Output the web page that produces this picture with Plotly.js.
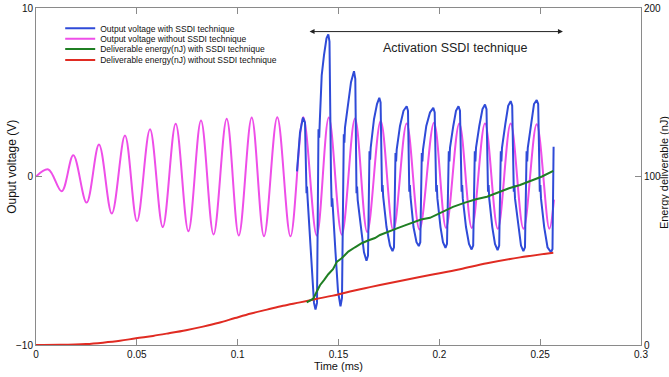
<!DOCTYPE html>
<html>
<head>
<meta charset="utf-8">
<script src="https://cdn.plot.ly/plotly-3.0.1.min.js"></script>
<style>html,body{margin:0;padding:0;background:#fff}#chart{width:669px;height:377px}</style>
</head>
<body>
<div id="chart"></div>
<script>
// ---- data (time in ms, voltage in V, energy in nJ) ----
const seriesNames = [
  "Output voltage with SSDI technique",
  "Output voltage without SSDI technique",
  "Deliverable energy(nJ) with SSDI technique",
  "Deliverable energy(nJ) without SSDI technique"
];

const vNoSsdiTime = [0,0.00610,0.01274,0.01850,0.02509,0.03124,0.03759,0.04413,0.05008,0.05653,0.06287,0.06927,0.07557,0.08182,0.08806,0.09456,0.10056,0.10696,0.11306,0.11965,0.12620,0.13254,0.13919,0.14519,0.15163,0.15818,0.16423,0.17092,0.17717,0.18381,0.19016,0.19735,0.20330,0.20990,0.21610,0.22264,0.22899,0.23538,0.24173,0.24828,0.25453,0.25686];
const vNoSsdi = [0,0.42,-0.87,1.26,-1.55,1.9,-2.2,2.43,-2.65,2.8,-3.0,3.13,-3.25,3.32,-3.44,3.42,-3.5,3.5,-3.55,3.52,-3.55,3.52,-3.5,3.5,-3.45,3.44,-3.3,3.3,-3.2,3.15,-3.15,3.19,-3.05,3.15,-3.05,3.15,-3.1,3.15,-3.1,3.1,-3.1,-1.37];

const vSsdiTime = [0.12942,0.13091,0.13240,0.13339,0.13413,0.13438,0.13468,0.13587,0.13686,0.13785,0.13859,0.13934,0.14008,0.14043,0.14073,0.14167,0.14281,0.14405,0.14494,0.14553,0.14628,0.14663,0.14692,0.14727,0.14851,0.14975,0.15099,0.15173,0.15263,0.15292,0.15322,0.15486,0.15620,0.15768,0.15833,0.15892,0.15922,0.15952,0.16115,0.16264,0.16388,0.16463,0.16537,0.16567,0.16596,0.16760,0.16909,0.17023,0.17087,0.17157,0.17187,0.17216,0.17380,0.17553,0.17678,0.17752,0.17826,0.17856,0.17886,0.18049,0.18223,0.18381,0.18446,0.18510,0.18540,0.18570,0.18719,0.18868,0.18982,0.19056,0.19130,0.19160,0.19190,0.19353,0.19537,0.19700,0.19770,0.19844,0.19874,0.19904,0.20058,0.20181,0.20305,0.20380,0.20469,0.20499,0.20529,0.20692,0.20826,0.20950,0.21024,0.21104,0.21134,0.21163,0.21322,0.21471,0.21600,0.21679,0.21758,0.21788,0.21818,0.21982,0.22140,0.22264,0.22339,0.22413,0.22443,0.22473,0.22626,0.22760,0.22889,0.22968,0.23048,0.23077,0.23107,0.23271,0.23414,0.23538,0.23613,0.23692,0.23722,0.23752,0.23910,0.24049,0.24168,0.24247,0.24327,0.24357,0.24386,0.24545,0.24694,0.24828,0.24902,0.24981,0.25011,0.25041,0.25200,0.25364,0.25537,0.25611,0.25651,0.25666];
const vSsdi = [0.3,2.6,3.5,3.2,-1.0,-0.6,-1.3,-3.5,-5.5,-7.5,-7.9,-7.5,2.8,2.3,3.3,6.0,7.2,8.2,8.43,8.0,0,-1.8,-1.3,-2.2,-4.5,-6.8,-7.7,-7.2,2.5,2.0,2.9,4.4,5.6,6.25,5.8,-1.0,-0.6,-1.4,-3.2,-4.5,-5.0,-4.7,1.5,1.0,1.7,3.4,4.3,4.67,4.4,-0.9,-0.5,-1.2,-3.0,-4.1,-4.43,-4.2,1.4,0.9,1.6,3.0,3.9,4.17,3.9,-0.9,-0.5,-1.2,-3.0,-3.9,-4.13,-3.9,1.4,0.9,1.6,3.0,3.8,4.07,3.8,-0.9,-0.5,-1.3,-3.0,-3.9,-4.23,-4.0,1.5,0.9,1.7,3.0,3.9,4.17,3.9,-0.9,-0.5,-1.3,-3.0,-4.0,-4.33,-4.1,1.5,0.9,1.7,3.0,4.0,4.27,4.0,-0.9,-0.5,-1.3,-3.0,-4.0,-4.37,-4.1,1.5,0.9,1.7,3.1,4.2,4.47,4.2,-0.9,-0.5,-1.3,-3.0,-4.1,-4.43,-4.2,1.5,0.9,1.7,3.1,4.3,4.53,4.3,-0.9,-0.5,-1.3,-3.0,-4.2,-4.49,-4.3,1.0,1.76];

const eSsdiTime = [0.13423,0.13587,0.13750,0.13919,0.14082,0.14281,0.14494,0.14727,0.14925,0.15158,0.15486,0.15818,0.16150,0.16463,0.16810,0.17058,0.17454,0.17900,0.18297,0.18694,0.19091,0.19537,0.20082,0.20677,0.21272,0.21818,0.22363,0.22909,0.23454,0.24000,0.24545,0.25091,0.25651];
const eSsdi = [25.3,26.5,27.5,31.6,35.5,38.5,42,45,49.5,51.5,55.4,58,60.4,62,63.5,65.3,67.3,69.2,71,72.6,74.5,75.5,78.5,82,84.5,86.5,88,90.5,93,95,97.5,100,103.4];

const eNoSsdiTime = [0,0.01190,0.02479,0.03322,0.04165,0.04959,0.05802,0.06595,0.07438,0.08281,0.09074,0.09868,0.10661,0.11454,0.12248,0.13091,0.13884,0.14727,0.15570,0.16314,0.17058,0.18049,0.19537,0.21024,0.22363,0.24000,0.25651];
const eNoSsdi = [0,0.1,0.6,1.4,2.5,4,5.4,7,8.8,10.9,13.2,16,18.7,21,23.3,25.3,27.3,29.3,31.7,33.7,35.6,38,41.5,45,48.5,52,54.8];

const xTicks = [0,0.05,0.1,0.15,0.2,0.25,0.3];
const xTickText = ["0","0.05","0.1","0.15","0.2","0.25","0.3"];
const yTicks = [-10,0,10];
const y2Ticks = [0,100,200];

const annotationText = "Activation SSDI technique";
const xTitle = "Time (ms)";
const yTitle = "Ouput voltage (V)";
const y2Title = "Energy deliverable (nJ)";

// ---- styles ----
const colors = ["#2f4bd8", "#ee4ee8", "#1f7f23", "#e02b22"];
const FONT = "Liberation Sans, Arial, Helvetica, sans-serif";

const traces = [
  {x: vSsdiTime, y: vSsdi, name: seriesNames[0], type: "scatter", mode: "lines",
   line: {color: colors[0], width: 2}, legend: "legend"},
  {x: vNoSsdiTime, y: vNoSsdi, name: seriesNames[1], type: "scatter", mode: "lines",
   line: {color: colors[1], width: 2, shape: "spline", smoothing: 1}, legend: "legend2"},
  {x: eSsdiTime, y: eSsdi, name: seriesNames[2], type: "scatter", mode: "lines", yaxis: "y2",
   line: {color: colors[2], width: 2}, legend: "legend3"},
  {x: eNoSsdiTime, y: eNoSsdi, name: seriesNames[3], type: "scatter", mode: "lines", yaxis: "y2",
   line: {color: colors[3], width: 2, shape: "spline"}, legend: "legend4"}
];
// draw order: magenta under blue
const ordered = [traces[1], traces[3], traces[2], traces[0]];

function leg(y) {
  return {x: 0.04, y: y, xanchor: "left", yanchor: "middle", bgcolor: "rgba(0,0,0,0)",
          borderwidth: 0, font: {family: FONT, size: 8.5, color: "#111"}, itemwidth: 30,
          tracegroupgap: 0};
}

const axisColor = "#8a8a8a";
const layout = {
  width: 669, height: 377,
  margin: {l: 36, r: 28, t: 8, b: 32, pad: 0},
  paper_bgcolor: "#fff", plot_bgcolor: "#fff",
  font: {family: FONT, size: 10, color: "#111"},
  showlegend: true,
  legend: leg(0.940),
  legend2: leg(0.909),
  legend3: leg(0.878),
  legend4: leg(0.846),
  xaxis: {range: [0, 0.3], tickvals: xTicks, ticktext: xTickText, ticks: "inside", ticklen: 6,
          tickcolor: axisColor, showline: true, linecolor: axisColor, linewidth: 1, mirror: "ticks",
          showgrid: false, zeroline: false, tickfont: {size: 10},
          title: {text: xTitle, font: {size: 11}, standoff: 0}},
  yaxis: {range: [-10, 10], tickvals: yTicks, ticks: "inside", ticklen: 6, tickcolor: axisColor,
          showline: true, linecolor: axisColor, linewidth: 1, showgrid: false, zeroline: false,
          tickfont: {size: 10}},
  yaxis2: {range: [0, 200], tickvals: y2Ticks, overlaying: "y", side: "right", ticks: "inside",
           ticklen: 6, tickcolor: axisColor, showline: true, linecolor: axisColor, linewidth: 1,
           showgrid: false, zeroline: false, tickfont: {size: 10}},
  annotations: [
    {xref: "x", yref: "y", x: 0.2078, y: 7.6, text: annotationText, showarrow: false,
     font: {family: FONT, size: 12.5, color: "#222"}},
    {xref: "x", yref: "y", x: 0.2613, y: 8.6, axref: "x", ayref: "y", ax: 0.1349, ay: 8.6,
     text: "", showarrow: true, arrowhead: 2, startarrowhead: 2, arrowside: "end+start",
     arrowsize: 1, arrowwidth: 1, arrowcolor: "#222"},
    {xref: "paper", yref: "paper", x: -0.040, y: 0.528, text: yTitle, textangle: -90,
     showarrow: false, xanchor: "center", yanchor: "middle", font: {family: FONT, size: 12, color: "#111"}},
    {xref: "paper", yref: "paper", x: 1.038, y: 0.513, text: y2Title, textangle: -90,
     showarrow: false, xanchor: "center", yanchor: "middle", font: {family: FONT, size: 11, color: "#111"}}
  ]
};

Plotly.newPlot("chart", ordered, layout, {displayModeBar: false, staticPlot: true});
</script>
</body>
</html>
